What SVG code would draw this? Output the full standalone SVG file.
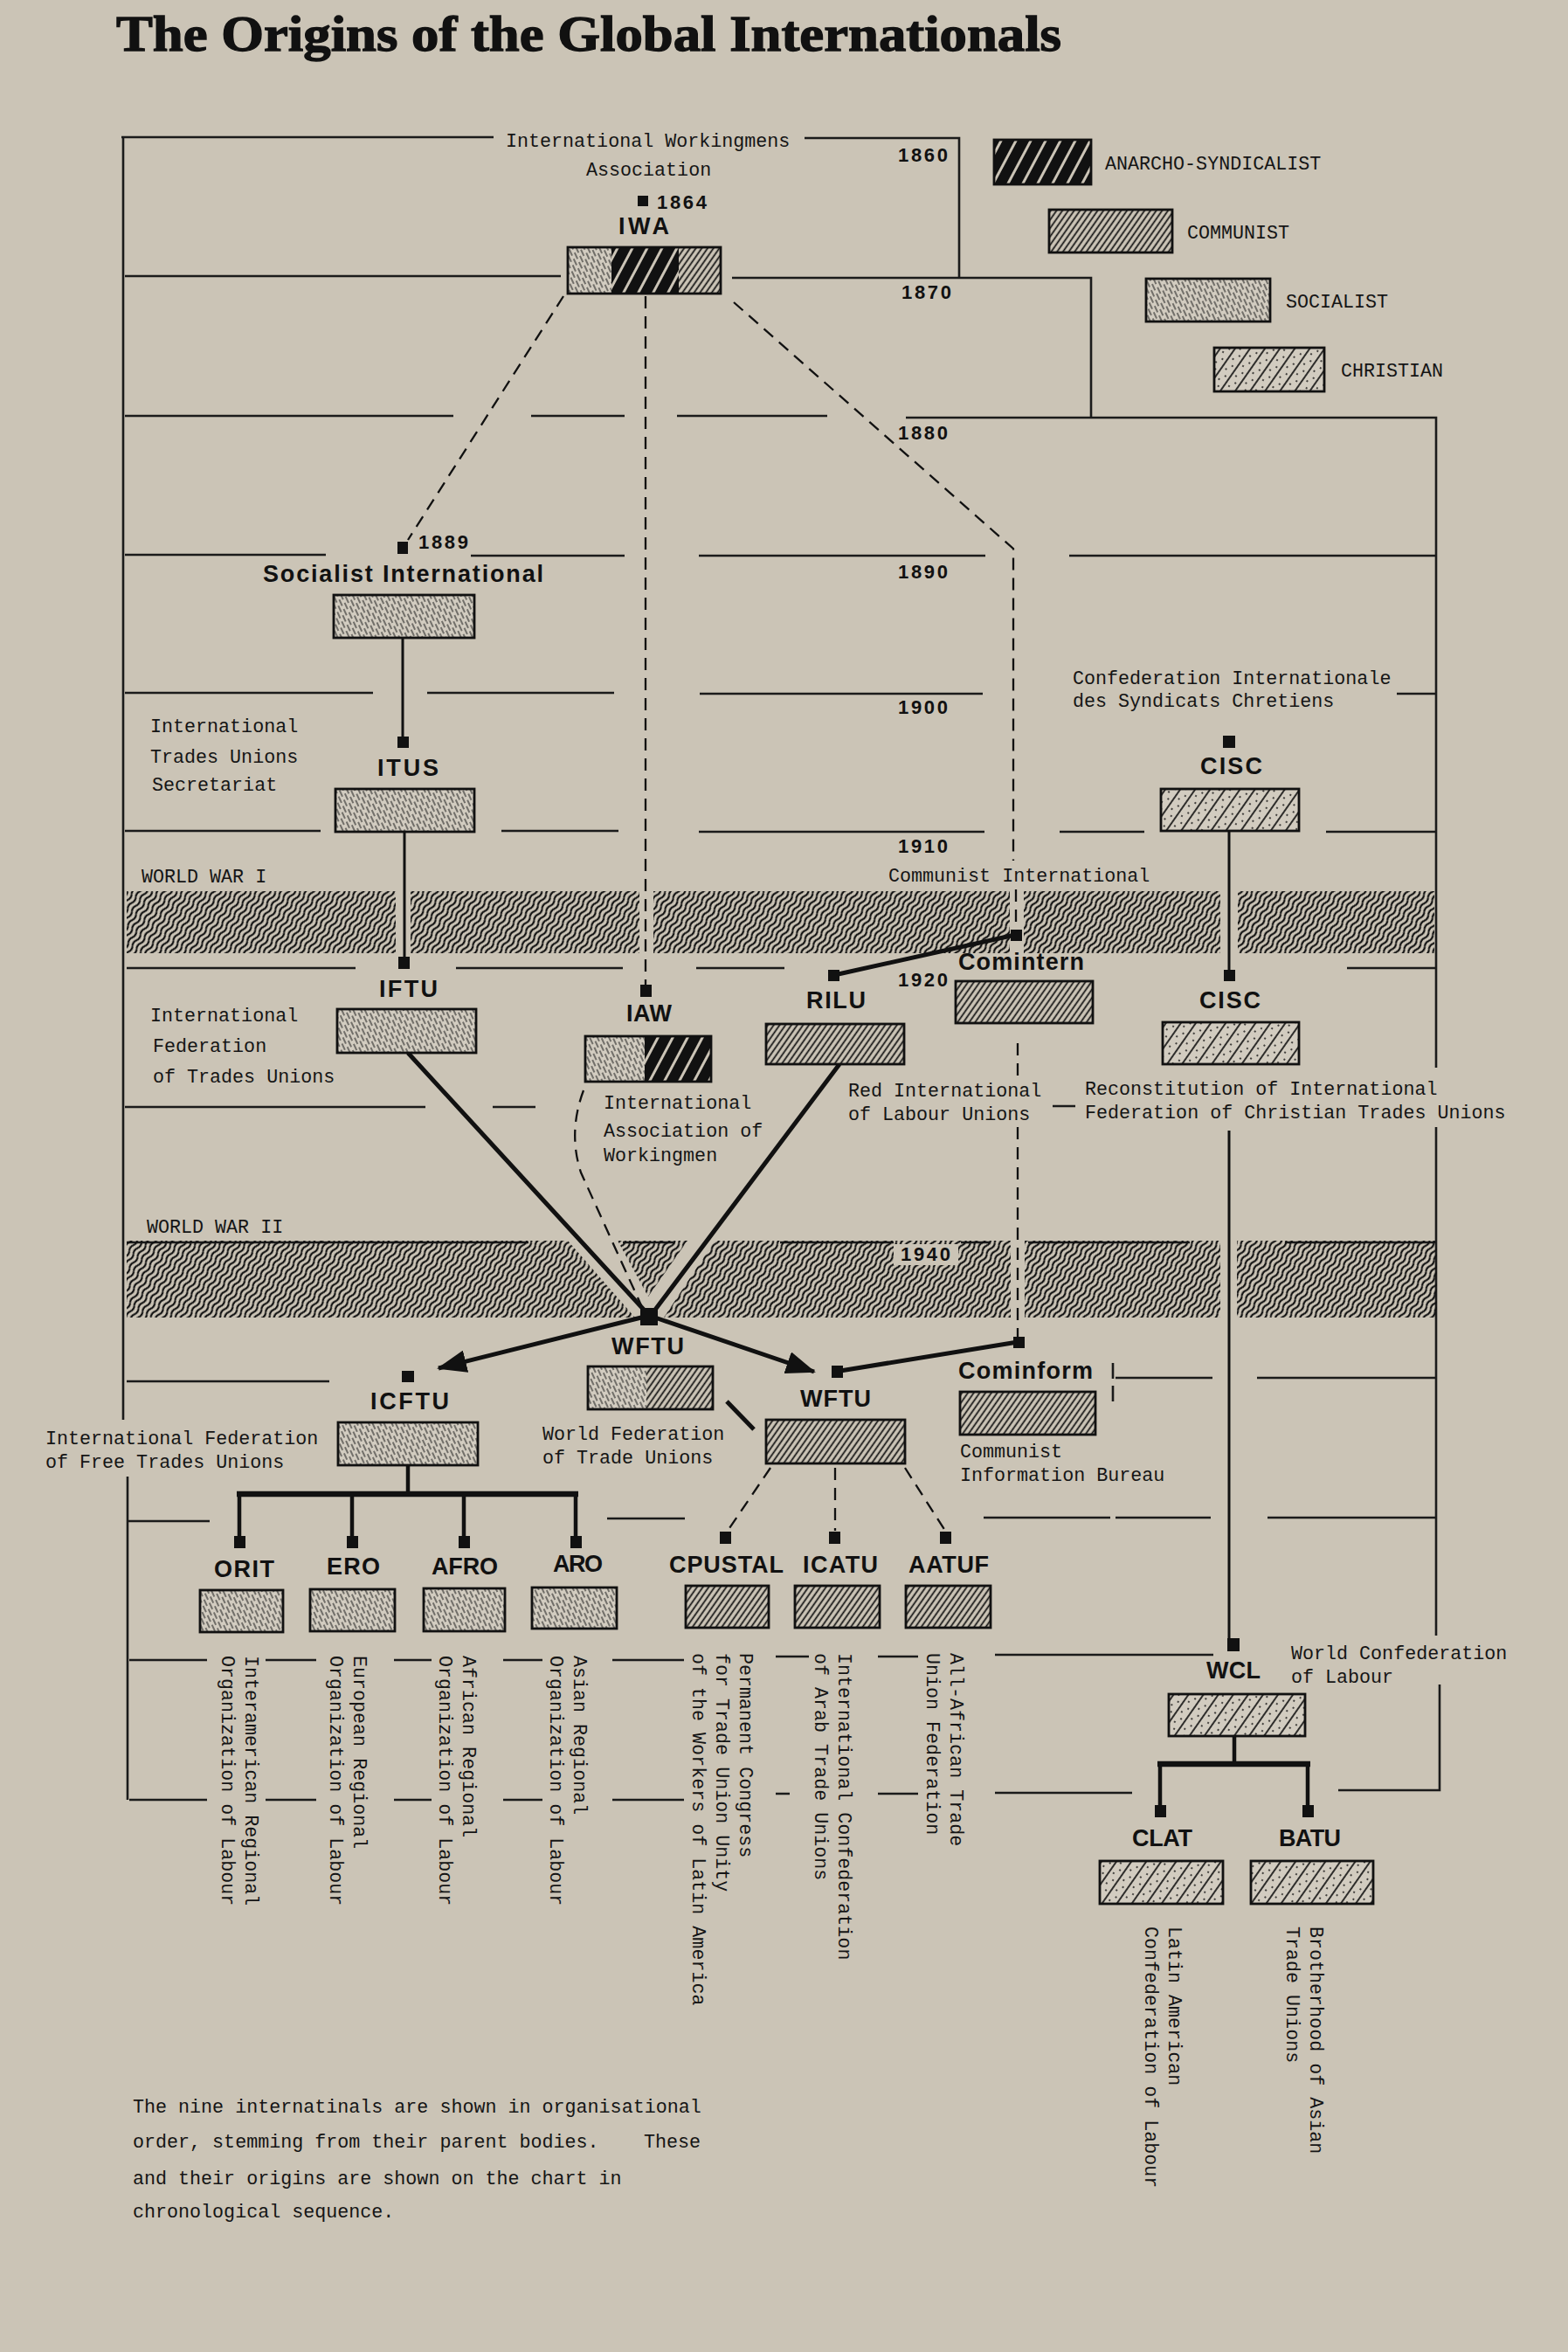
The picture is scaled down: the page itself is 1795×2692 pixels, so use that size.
<svg xmlns="http://www.w3.org/2000/svg" width="1795" height="2692" viewBox="0 0 1795 2692">
<style>
.ln{stroke:#1b1b1b;stroke-width:2.6;fill:none}
.cn{stroke:#111;stroke-width:3;fill:none}
.thk{stroke:#111;stroke-width:5;fill:none}
.bar{stroke:#111;stroke-width:6.5;fill:none}
.dsh{stroke:#111;stroke-width:2.3;stroke-dasharray:14 9;fill:none}
.bx{fill:none;stroke:#111;stroke-width:2.8}
.nd{fill:#111}
.lb{font-family:"Liberation Sans",Arial,sans-serif;font-weight:bold;font-size:27px;fill:#111}
.yr{font-family:"Liberation Sans",Arial,sans-serif;font-weight:bold;font-size:22px;fill:#111}
.tw{font-family:"Liberation Mono","DejaVu Sans Mono",monospace;font-size:21.7px;fill:#151515}
.ttl{font-family:"Liberation Serif","Times New Roman",serif;font-weight:bold;font-size:57px;fill:#111;stroke:#111;stroke-width:1.3}
.so{fill:url(#pSo)}.co{fill:url(#pCo)}.an{fill:url(#pAn)}.ch{fill:url(#pCh)}.war{fill:url(#pWar)}
</style>
<defs>
<pattern id="pAn" patternUnits="userSpaceOnUse" width="15" height="15" patternTransform="rotate(28)">
<rect width="15" height="15" fill="#111"/><rect x="6" width="3" height="15" fill="#cbc4b6"/>
</pattern>
<pattern id="pCo" patternUnits="userSpaceOnUse" width="5.5" height="10" patternTransform="rotate(35)">
<rect width="5.5" height="10" fill="#cbc4b6"/><line x1="1.5" y1="0" x2="1.5" y2="10" stroke="#111" stroke-width="1.7"/>
</pattern>
<pattern id="pSo" patternUnits="userSpaceOnUse" width="8" height="12" patternTransform="rotate(-25)">
<rect width="8" height="12" fill="#d2ccc0"/>
<line x1="2" y1="0" x2="2" y2="8" stroke="#222" stroke-width="1.1"/>
<line x1="6" y1="6" x2="6" y2="14" stroke="#222" stroke-width="1.1"/>
<line x1="6" y1="-6" x2="6" y2="2" stroke="#222" stroke-width="1.1"/>
</pattern>
<pattern id="pCh" patternUnits="userSpaceOnUse" width="14" height="14" patternTransform="rotate(35)">
<rect width="14" height="14" fill="#d2ccc0"/>
<line x1="1" y1="0" x2="1" y2="14" stroke="#111" stroke-width="1.7"/>
<circle cx="6" cy="3" r="1" fill="#111"/><circle cx="10" cy="10" r="1" fill="#111"/>
</pattern>
<pattern id="pWar" patternUnits="userSpaceOnUse" width="5.8" height="16" patternTransform="rotate(35)">
<path d="M2.9,0 Q5.4,4 2.9,8 Q0.4,12 2.9,16" fill="none" stroke="#111" stroke-width="2.2"/>
</pattern>
<marker id="arr" markerUnits="userSpaceOnUse" viewBox="0 0 34 26" markerWidth="34" markerHeight="26" refX="32" refY="13" orient="auto">
<path d="M0,0 L34,13 L0,26 Z" fill="#111"/>
</marker>
</defs>

<rect width="1795" height="2692" fill="#cbc4b6"/>

<text class="ttl" x="133" y="58" textLength="1082" lengthAdjust="spacingAndGlyphs">The Origins of the Global Internationals</text>

<g id="timeline">
<path class="ln" d="M141 157 V1625 M146 1690 V2060
M139 157 H565 M921 158 H1098 V318
M143 316 H642 M838 318 H1249 V478
M143 476 H519 M608 476 H715 M775 476 H947 M1037 478 H1644 V1222
M143 635 H373 M539 636 H715 M800 636 H1128 M1224 636 H1644
M143 793 H427 M489 793 H703 M801 794 H1125 M1599 794 H1644
M143 951 H367 M574 951 H708 M800 952 H1127 M1213 952 H1310 M1518 952 H1644
M145 1108 H407 M522 1108 H713 M797 1108 H898 M1542 1108 H1644
M143 1267 H487 M564 1267 H613 M1205 1266 H1231
M1644 1290 V1872 M1648 1928 V2049 H1532
M145 1422 H605 M713 1422 H773 M893 1422 H1023 M1100 1422 H1134 M1177 1422 H1362 M1471 1422 H1645
M145 1581 H377 M1277 1577 H1388 M1439 1577 H1645 M1274 1560 V1578 M1274 1586 V1604
M145 1741 H240 M695 1738 H784 M1126 1737 H1271 M1277 1737 H1386 M1451 1737 H1644
M148 1900 H237 M304 1900 H362 M451 1900 H494 M576 1900 H621 M701 1900 H783 M888 1896 H926 M1005 1896 H1051 M1139 1894 H1389
M148 2060 H237 M304 2060 H362 M451 2060 H494 M576 2060 H621 M701 2060 H783 M888 2053 H904 M1005 2053 H1051 M1139 2052 H1296"/>
<text class="yr" x="1028" y="185" textLength="57">1860</text>
<text class="yr" x="1032" y="342" textLength="57">1870</text>
<text class="yr" x="1028" y="503" textLength="57">1880</text>
<text class="yr" x="1028" y="662" textLength="57">1890</text>
<text class="yr" x="1028" y="817" textLength="57">1900</text>
<text class="yr" x="1028" y="976" textLength="57">1910</text>
<text class="yr" x="1028" y="1129" textLength="57">1920</text>
<text class="tw" x="579" y="168">International Workingmens</text>
<text class="tw" x="671" y="201">Association</text>
<text class="tw" x="1017" y="1009">Communist International</text>
</g>

<g id="war-bands">
<text class="tw" x="162" y="1010">WORLD WAR I</text>
<rect class="war" x="145" y="1020" width="308" height="71"/>
<rect class="war" x="470" y="1020" width="262" height="71"/>
<rect class="war" x="748" y="1020" width="408" height="71"/>
<rect class="war" x="1172" y="1020" width="225" height="71"/>
<rect class="war" x="1417" y="1020" width="225" height="71"/>
<text class="tw" x="168" y="1411">WORLD WAR II</text>
<polygon class="war" points="145,1420 650,1420 727,1508 145,1508"/>
<polygon class="war" points="707,1420 787,1420 742,1484"/>
<polygon class="war" points="818,1420 1157,1420 1157,1508 760,1508"/>
<rect class="war" x="1173" y="1420" width="224" height="88"/>
<rect class="war" x="1416" y="1420" width="229" height="88"/>
<rect x="1023" y="1424" width="74" height="24" fill="#cbc4b6"/>
<text class="yr" x="1031" y="1443" textLength="57">1940</text>
</g>

<g id="legend">
<rect class="an" x="1138" y="160" width="111" height="51"/><rect class="bx" x="1138" y="160" width="111" height="51"/>
<text class="tw" x="1265" y="194">ANARCHO-SYNDICALIST</text>
<rect class="co" x="1201" y="240" width="141" height="49"/><rect class="bx" x="1201" y="240" width="141" height="49"/>
<text class="tw" x="1359" y="273">COMMUNIST</text>
<rect class="so" x="1312" y="319" width="142" height="49"/><rect class="bx" x="1312" y="319" width="142" height="49"/>
<text class="tw" x="1472" y="352">SOCIALIST</text>
<rect class="ch" x="1390" y="398" width="126" height="50"/><rect class="bx" x="1390" y="398" width="126" height="50"/>
<text class="tw" x="1535" y="431">CHRISTIAN</text>
</g>

<g id="connectors">
<path class="cn" d="M461 730 V843 M463 952 V1095 M1407 951 V1110 M1407 1294 V1875"/>
<path class="thk" d="M467 1205 L737 1499 M961 1218 L750 1499 M955 1116 L1162 1070 M962 1569 L1165 1536"/>
<path class="thk" d="M738 1507 L502 1566" marker-end="url(#arr)"/>
<path class="thk" d="M750 1508 L932 1570" marker-end="url(#arr)"/>
<path class="thk" d="M832 1604 L863 1636"/>
<path class="dsh" d="M645 339 L467 618"/>
<path class="dsh" d="M739 339 V1127"/>
<path class="dsh" d="M840 346 L1160 628 V985 M1163 1018 V1064"/>
<path class="dsh" d="M1165 1194 V1238 M1165 1290 V1530"/>
<path class="dsh" d="M668 1248 Q650 1296 665 1342 L734 1494"/>
<path class="dsh" d="M882 1680 L833 1752 M956 1680 V1752 M1036 1680 L1082 1752"/>
<path class="cn" d="M467 1677 V1710 M274 1710 V1760 M403 1710 V1760 M531 1710 V1760 M659 1710 V1760" style="stroke-width:4.5"/>
<path class="bar" d="M271 1710 H662"/>
<path class="cn" d="M1413 1987 V2019 M1328 2019 V2066 M1497 2019 V2066" style="stroke-width:4.5"/>
<path class="bar" d="M1325 2019 H1500"/>
</g>

<g id="IWA">
<rect class="nd" x="730" y="224" width="12" height="12"/>
<text class="yr" x="752" y="239" textLength="57">1864</text>
<text class="lb" x="708" y="268" textLength="58">IWA</text>
<rect class="so" x="650" y="283" width="50" height="53"/>
<rect class="an" x="700" y="283" width="77" height="53"/>
<rect class="co" x="777" y="283" width="48" height="53"/>
<rect class="bx" x="650" y="283" width="175" height="53"/>
</g>

<g id="SocialistInternational">
<rect class="nd" x="455" y="620" width="12" height="14"/>
<text class="yr" x="479" y="628" textLength="57">1889</text>
<text class="lb" x="301" y="666" textLength="321">Socialist International</text>
<rect class="so" x="382" y="681" width="161" height="49"/><rect class="bx" x="382" y="681" width="161" height="49"/>
</g>

<g id="ITUS">
<rect class="nd" x="455" y="843" width="13" height="13"/>
<text class="tw" x="172" y="838">International</text>
<text class="tw" x="172" y="873">Trades Unions</text>
<text class="tw" x="174" y="905">Secretariat</text>
<text class="lb" x="432" y="888" textLength="70">ITUS</text>
<rect class="so" x="384" y="903" width="159" height="49"/><rect class="bx" x="384" y="903" width="159" height="49"/>
</g>

<g id="IFTU">
<rect class="nd" x="456" y="1095" width="13" height="14"/>
<text class="lb" x="434" y="1141" textLength="67">IFTU</text>
<text class="tw" x="172" y="1169">International</text>
<text class="tw" x="175" y="1204">Federation</text>
<text class="tw" x="175" y="1239">of Trades Unions</text>
<rect class="so" x="386" y="1155" width="159" height="50"/><rect class="bx" x="386" y="1155" width="159" height="50"/>
</g>

<g id="IAW">
<rect class="nd" x="733" y="1127" width="13" height="14"/>
<text class="lb" x="717" y="1169" textLength="52">IAW</text>
<rect class="so" x="670" y="1186" width="68" height="52"/>
<rect class="an" x="738" y="1186" width="76" height="52"/>
<rect class="bx" x="670" y="1186" width="144" height="52"/>
<text class="tw" x="691" y="1269">International</text>
<text class="tw" x="691" y="1301">Association of</text>
<text class="tw" x="691" y="1329">Workingmen</text>
</g>

<g id="RILU">
<rect class="nd" x="948" y="1110" width="13" height="13"/>
<text class="lb" x="923" y="1154" textLength="68">RILU</text>
<rect class="co" x="877" y="1172" width="158" height="46"/><rect class="bx" x="877" y="1172" width="158" height="46"/>
<text class="tw" x="971" y="1255">Red International</text>
<text class="tw" x="971" y="1282">of Labour Unions</text>
</g>

<g id="Comintern">
<rect class="nd" x="1157" y="1064" width="13" height="13"/>
<text class="lb" x="1097" y="1110" textLength="144">Comintern</text>
<rect class="co" x="1094" y="1123" width="157" height="48"/><rect class="bx" x="1094" y="1123" width="157" height="48"/>
</g>

<g id="CISC1">
<text class="tw" x="1228" y="783">Confederation Internationale</text>
<text class="tw" x="1228" y="809">des Syndicats Chretiens</text>
<rect class="nd" x="1400" y="842" width="14" height="14"/>
<text class="lb" x="1374" y="886" textLength="71">CISC</text>
<rect class="ch" x="1329" y="903" width="158" height="48"/><rect class="bx" x="1329" y="903" width="158" height="48"/>
</g>

<g id="CISC2">
<rect class="nd" x="1401" y="1110" width="13" height="13"/>
<text class="lb" x="1373" y="1154" textLength="70">CISC</text>
<rect class="ch" x="1331" y="1170" width="156" height="48"/><rect class="bx" x="1331" y="1170" width="156" height="48"/>
<text class="tw" x="1242" y="1253">Reconstitution of International</text>
<text class="tw" x="1242" y="1280">Federation of Christian Trades Unions</text>
</g>

<g id="WFTU">
<rect class="nd" x="733" y="1497" width="20" height="20"/>
<text class="lb" x="700" y="1550" textLength="83">WFTU</text>
<rect class="so" x="673" y="1564" width="67" height="49"/>
<rect class="co" x="740" y="1564" width="76" height="49"/>
<rect class="bx" x="673" y="1564" width="143" height="49"/>
<text class="tw" x="621" y="1648">World Federation</text>
<text class="tw" x="621" y="1675">of Trade Unions</text>
</g>

<g id="ICFTU">
<rect class="nd" x="460" y="1569" width="14" height="13"/>
<text class="lb" x="424" y="1613" textLength="90">ICFTU</text>
<rect class="so" x="387" y="1628" width="160" height="49"/><rect class="bx" x="387" y="1628" width="160" height="49"/>
<text class="tw" x="52" y="1653">International Federation</text>
<text class="tw" x="52" y="1680">of Free Trades Unions</text>
</g>

<g id="WFTU2">
<rect class="nd" x="952" y="1563" width="13" height="14"/>
<text class="lb" x="916" y="1610" textLength="81">WFTU</text>
<rect class="co" x="877" y="1625" width="159" height="50"/><rect class="bx" x="877" y="1625" width="159" height="50"/>
</g>

<g id="Cominform">
<rect class="nd" x="1160" y="1530" width="13" height="13"/>
<text class="lb" x="1097" y="1578" textLength="154">Cominform</text>
<rect class="co" x="1099" y="1593" width="155" height="49"/><rect class="bx" x="1099" y="1593" width="155" height="49"/>
<text class="tw" x="1099" y="1668">Communist</text>
<text class="tw" x="1099" y="1695">Information Bureau</text>
</g>

<g id="ORIT">
<rect class="nd" x="268" y="1758" width="13" height="14"/>
<text class="lb" x="245" y="1805" textLength="69">ORIT</text>
<rect class="so" x="229" y="1820" width="95" height="48"/><rect class="bx" x="229" y="1820" width="95" height="48"/>
<text class="tw" transform="translate(281,1895) rotate(90)">Interamerican Regional</text>
<text class="tw" transform="translate(254,1895) rotate(90)">Organization of Labour</text>
</g>

<g id="ERO">
<rect class="nd" x="397" y="1758" width="13" height="14"/>
<text class="lb" x="374" y="1802" textLength="61">ERO</text>
<rect class="so" x="355" y="1819" width="97" height="48"/><rect class="bx" x="355" y="1819" width="97" height="48"/>
<text class="tw" transform="translate(405,1895) rotate(90)">European Regional</text>
<text class="tw" transform="translate(378,1895) rotate(90)">Organization of Labour</text>
</g>

<g id="AFRO">
<rect class="nd" x="525" y="1758" width="13" height="14"/>
<text class="lb" x="494" y="1802" textLength="76">AFRO</text>
<rect class="so" x="485" y="1818" width="93" height="49"/><rect class="bx" x="485" y="1818" width="93" height="49"/>
<text class="tw" transform="translate(530,1895) rotate(90)">African Regional</text>
<text class="tw" transform="translate(503,1895) rotate(90)">Organization of Labour</text>
</g>

<g id="ARO">
<rect class="nd" x="653" y="1758" width="13" height="14"/>
<text class="lb" x="633" y="1799" textLength="57">ARO</text>
<rect class="so" x="609" y="1817" width="97" height="47"/><rect class="bx" x="609" y="1817" width="97" height="47"/>
<text class="tw" transform="translate(657,1895) rotate(90)">Asian Regional</text>
<text class="tw" transform="translate(630,1895) rotate(90)">Organization of Labour</text>
</g>

<g id="CPUSTAL">
<rect class="nd" x="824" y="1753" width="13" height="14"/>
<text class="lb" x="766" y="1800" textLength="131">CPUSTAL</text>
<rect class="co" x="785" y="1815" width="95" height="48"/><rect class="bx" x="785" y="1815" width="95" height="48"/>
<text class="tw" transform="translate(847,1892) rotate(90)">Permanent Congress</text>
<text class="tw" transform="translate(820,1892) rotate(90)">for Trade Union Unity</text>
<text class="tw" transform="translate(793,1892) rotate(90)">of the Workers of Latin America</text>
</g>

<g id="ICATU">
<rect class="nd" x="949" y="1753" width="13" height="14"/>
<text class="lb" x="919" y="1800" textLength="86">ICATU</text>
<rect class="co" x="910" y="1815" width="97" height="48"/><rect class="bx" x="910" y="1815" width="97" height="48"/>
<text class="tw" transform="translate(960,1892) rotate(90)">International Confederation</text>
<text class="tw" transform="translate(933,1892) rotate(90)">of Arab Trade Unions</text>
</g>

<g id="AATUF">
<rect class="nd" x="1076" y="1753" width="13" height="14"/>
<text class="lb" x="1040" y="1800" textLength="92">AATUF</text>
<rect class="co" x="1037" y="1815" width="97" height="48"/><rect class="bx" x="1037" y="1815" width="97" height="48"/>
<text class="tw" transform="translate(1088,1892) rotate(90)">All-African Trade</text>
<text class="tw" transform="translate(1061,1892) rotate(90)">Union Federation</text>
</g>

<g id="WCL">
<rect class="nd" x="1405" y="1875" width="14" height="15"/>
<text class="lb" x="1381" y="1921" textLength="62">WCL</text>
<text class="tw" x="1478" y="1899">World Confederation</text>
<text class="tw" x="1478" y="1926">of Labour</text>
<rect class="ch" x="1338" y="1939" width="156" height="48"/><rect class="bx" x="1338" y="1939" width="156" height="48"/>
</g>

<g id="CLAT">
<rect class="nd" x="1322" y="2066" width="13" height="14"/>
<text class="lb" x="1296" y="2113" textLength="69">CLAT</text>
<rect class="ch" x="1259" y="2130" width="141" height="49"/><rect class="bx" x="1259" y="2130" width="141" height="49"/>
<text class="tw" transform="translate(1338,2205) rotate(90)">Latin American</text>
<text class="tw" transform="translate(1311,2205) rotate(90)">Confederation of Labour</text>
</g>

<g id="BATU">
<rect class="nd" x="1491" y="2066" width="13" height="14"/>
<text class="lb" x="1464" y="2113" textLength="71">BATU</text>
<rect class="ch" x="1432" y="2130" width="140" height="49"/><rect class="bx" x="1432" y="2130" width="140" height="49"/>
<text class="tw" transform="translate(1500,2205) rotate(90)">Brotherhood of Asian</text>
<text class="tw" transform="translate(1473,2205) rotate(90)">Trade Unions</text>
</g>

<g id="note">
<text class="tw" x="152" y="2418">The nine internatinals are shown in organisational</text>
<text class="tw" x="152" y="2458">order, stemming from their parent bodies.</text>
<text class="tw" x="737" y="2458">These</text>
<text class="tw" x="152" y="2500">and their origins are shown on the chart in</text>
<text class="tw" x="152" y="2538">chronological sequence.</text>
</g>
</svg>
